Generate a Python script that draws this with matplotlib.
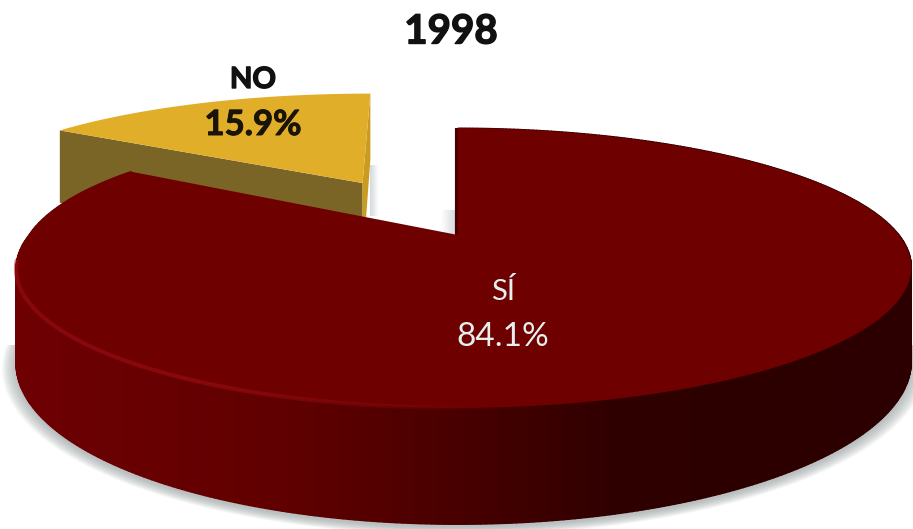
import numpy as np
import matplotlib
matplotlib.use('Agg')
import matplotlib.pyplot as plt
import matplotlib.patheffects as pe
from matplotlib.patches import Polygon
from matplotlib.collections import LineCollection
from matplotlib.colors import LinearSegmentedColormap

plt.rcParams['font.family'] = ['Lato', 'DejaVu Sans']

# datos
labels = ['SÍ', 'NO']
values = [84.1, 15.9]
year = '1998'

# proyeccion del disco (pixeles de la imagen)
cx, cy = 464, 235
ax_a, ax_b = 435, 132
persp = 0.236
depth = 89
explode = 0.494

fig = plt.figure(figsize=(9.13, 5.29), dpi=100)
ax = fig.add_axes([0, 0, 1, 1])
ax.set_xlim(0, 913)
ax.set_ylim(529, 0)
ax.axis('off')


def project(u, v, d=0.0):
    w = 1 / (1 + persp * v)
    return cx + ax_a * u * w - 6 * (1 - u ** 2), cy - ax_b * v * w + d * w


def rim(a0, a1, n=200):
    t = np.radians(np.linspace(a0, a1, n))
    return np.sin(t), np.cos(t)


end_si = values[0] / sum(values) * 360

# sombra debajo del disco, solo por delante
u, v = rim(0, 360, 300)
for s in np.linspace(1.03, 1.0, 12):
    x, y = project(u * s, v * s, depth)
    shadow = Polygon(np.c_[x, y + 3], fc='#8f9a9a', ec='none', alpha=0.07, zorder=1)
    ax.add_patch(shadow)
    shadow.set_clip_path(Polygon([(0, 345), (913, 345), (913, 529), (0, 529)], transform=ax.transData))

# rebanada NO, separada del disco
mid = np.radians((end_si + 360) / 2)
ou, ov = explode * np.sin(mid), explode * np.cos(mid)


def no_point(u, v, d=0.0):
    x, y = project(u + ou, v + ov, d)
    y0 = cy - ax_b * ov / (1 + persp * ov)
    x0 = cx + ax_a * ou / (1 + persp * ov)
    xn = x - 2 + 0.04 * (x - x0) + 0.106 * (y - d / (1 + persp * (v + ov)) - y0)
    return xn - 5 * np.clip((x0 - xn) / 300, 0, 1), y


u, v = rim(end_si, 360)
x, y = no_point(u, v)
ax0, ay0 = no_point(0, 0)
ax0b, ay0b = no_point(0, 0, depth)
xl, yl = no_point(u[0], v[0], depth)
xr, yr = no_point(u[-1], v[-1], depth)

# pared izquierda, pared derecha y cara superior
ax.add_patch(Polygon([(x[0], y[0]), (ax0, ay0), (ax0b, ay0b), (xl, yl)],
                     fc='#7a6426', ec='none', zorder=2))
ax.add_patch(Polygon([(x[-1], y[-1]), (ax0, ay0), (ax0b, ay0b), (xr, yr)],
                     fc='#c99c20', ec='none', zorder=2))
ax.add_patch(Polygon(np.r_[[(ax0, ay0)], np.c_[x, y]], fc='#e0ae28', ec='none', zorder=3))

# sombras pequeñas junto a los cortes
grey = LinearSegmentedColormap.from_list('g', ['#d4d9dc', '#ffffff'])
grad = np.linspace(0, 1, 64).reshape(1, -1)
ax.imshow(grad, extent=(x[-1], x[-1] + 9, 216, 165), cmap=grey, aspect='auto', zorder=1.5)
ax.imshow(grad[:, ::-1], extent=(441, 456, 234, 210), cmap=grey, aspect='auto', zorder=1.5)

# lateral de SÍ, de claro a oscuro segun x
side = LinearSegmentedColormap.from_list(
    's', [(0, '#6e0002'), (0.3, '#600000'), (0.5, '#480000'), (0.68, '#2e0000'), (1, '#2c0000')])
u, v = rim(0, end_si, 500)
bend = 15 * np.minimum(u, 0) * np.maximum(v, 0)
xt, yt = project(u, v)
xb, yb = project(u, v, depth)
xt, xb = xt + bend, xb + bend
for i in range(len(u) - 1):
    c = side(np.clip((xt[i] - 14) / 899, 0, 1))
    ax.add_patch(Polygon([(xt[i], yt[i]), (xt[i + 1], yt[i + 1]), (xb[i + 1], yb[i + 1]), (xb[i], yb[i])],
                         fc=c, ec=c, lw=1.0, zorder=4))

# pared del corte de SÍ
ax0s, ay0s = project(0, 0)
ax.plot([ax0s - 1.5, ax0s - 1.5], [project(0, 1)[1], ay0s], color='#4a0000', lw=3, zorder=4.5, solid_capstyle='butt')

# cara superior de SÍ
ax.add_patch(Polygon(np.r_[[(ax0s, ay0s)], np.c_[xt, yt]], fc='#6e0000', ec='none', zorder=5))

# brillo del borde a la izquierda
pts = np.c_[xt, yt].reshape(-1, 1, 2)
segs = np.concatenate([pts[:-1], pts[1:]], axis=1)
fade = np.clip((520 - xt[:-1]) / 300, 0, 1) * (yt[:-1] > cy + 25)
cols = np.zeros((len(segs), 4))
cols[:, :3] = matplotlib.colors.to_rgb('#a01018')
cols[:, 3] = 0.55 * fade
ax.add_collection(LineCollection(segs, colors=cols, linewidths=3, zorder=6))

# textos
heavy = [pe.withStroke(linewidth=1.0, foreground='#111111')]
ax.text(451, 32, year, ha='center', va='center', fontsize=29, fontweight='bold', color='#111111',
        path_effects=heavy, zorder=8)
ax.text(253, 80, labels[1], ha='center', va='center', fontsize=21, fontweight='bold', color='#111111',
        path_effects=heavy, zorder=8)
ax.text(253, 125, f'{values[1]}%', ha='center', va='center', fontsize=25, fontweight='bold', color='#1a1408',
        path_effects=[pe.withStroke(linewidth=0.7, foreground='#1a1408')], zorder=8)
ax.text(503, 291, labels[0], ha='center', va='center', fontsize=21, color='#e6eeee', zorder=8)
ax.text(503, 337, f'{values[0]}%', ha='center', va='center', fontsize=24, color='#e6eeee', zorder=8)

ax.set_xlim(0, 913)
ax.set_ylim(529, 0)
fig.savefig('out.png', dpi=100, facecolor='white')
